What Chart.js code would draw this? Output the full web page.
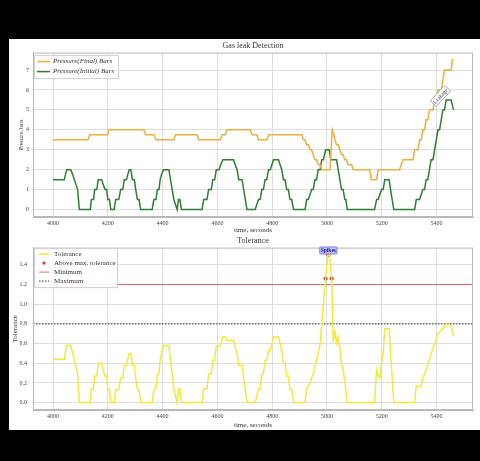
<!DOCTYPE html>
<html>
<head>
<meta charset="utf-8">
<script src="https://cdn.jsdelivr.net/npm/chart.js@4/dist/chart.umd.min.js"></script>
<style>
  html, body { margin: 0; padding: 0; background: #000; }
  body { width: 480px; height: 461px; position: relative; overflow: hidden; }
  #panel { position: absolute; left: 9px; top: 39px; width: 471px; height: 391px; background: #fff; }
  canvas { position: absolute; left: 0; }
  #pressure { top: 0; }
  #tolerance { top: 196px; }
</style>
</head>
<body>
<div id="panel">
  <canvas id="pressure" width="471" height="196"></canvas>
  <canvas id="tolerance" width="471" height="195"></canvas>
</div>
<script>
// [time in seconds, value]
const pressureFinal = [
  [4000, 3.5], [4128, 3.5], [4134, 3.75], [4199, 3.75], [4205, 4.0], [4332, 4.0], [4338, 3.75],
  [4368, 3.75], [4376, 3.5], [4441, 3.5], [4447, 3.75], [4526, 3.75], [4532, 3.5], [4611, 3.5],
  [4617, 3.75], [4629, 3.75], [4635, 4.0], [4720, 4.0], [4726, 3.75], [4744, 3.75], [4750, 3.5],
  [4781, 3.5], [4787, 3.75], [4908, 3.75], [4914, 3.5], [4920, 3.5], [4926, 3.25], [4932, 3.25],
  [4938, 3.0], [4944, 3.0], [4950, 2.75], [4956, 2.5], [4962, 2.5], [4968, 2.25], [4975, 2.25],
  [4981, 2.0], [5011, 2.0], [5019, 4.0], [5025, 3.75], [5029, 3.5], [5035, 3.25], [5041, 3.25],
  [5047, 3.0], [5053, 2.75], [5059, 2.75], [5065, 2.5], [5071, 2.5], [5077, 2.25], [5090, 2.25],
  [5096, 2.0], [5156, 2.0], [5162, 1.5], [5181, 1.5], [5187, 2.0], [5265, 2.0], [5271, 2.25],
  [5278, 2.5], [5314, 2.5], [5320, 3.0], [5332, 3.0], [5338, 3.5], [5344, 3.5], [5350, 4.0],
  [5356, 4.0], [5362, 4.5], [5368, 4.5], [5374, 5.0], [5387, 5.0], [5393, 5.5], [5399, 5.5],
  [5405, 6.0], [5417, 6.0], [5423, 6.5], [5429, 7.0], [5453, 7.0], [5458, 7.5], [5462, 7.5]
];

const pressureInitial = [
  [4000, 1.5], [4041, 1.5], [4050, 2.0], [4065, 2.0], [4072, 1.75], [4078, 1.5], [4084, 1.25],
  [4090, 1.0], [4096, 0], [4136, 0], [4140, 0.5], [4148, 0.5], [4152, 1.0], [4160, 1.0],
  [4165, 1.5], [4178, 1.5], [4183, 1.25], [4190, 1.0], [4196, 1.0], [4200, 0.5], [4206, 0.5],
  [4211, 0], [4223, 0], [4229, 0.5], [4240, 0.5], [4247, 1.0], [4255, 1.0], [4260, 1.5],
  [4268, 1.5], [4273, 1.75], [4278, 2.0], [4284, 2.0], [4290, 1.5], [4297, 1.5], [4302, 1.0],
  [4308, 0.5], [4314, 0.5], [4320, 0], [4362, 0], [4368, 0.5], [4376, 0.5], [4381, 1.0],
  [4387, 1.0], [4391, 1.5], [4396, 1.75], [4403, 2.0], [4423, 2.0], [4429, 1.5], [4435, 1.0],
  [4441, 0.5], [4447, 0.25], [4453, 0], [4458, 0.5], [4463, 0.5], [4469, 0], [4544, 0],
  [4550, 0.5], [4562, 0.5], [4568, 1.0], [4578, 1.0], [4583, 1.5], [4590, 1.5], [4596, 2.0],
  [4606, 2.0], [4612, 2.25], [4620, 2.5], [4659, 2.5], [4665, 2.25], [4672, 2.0], [4678, 1.5],
  [4690, 1.5], [4696, 1.0], [4702, 0.5], [4708, 0], [4738, 0], [4744, 0.25], [4750, 0.5],
  [4756, 0.5], [4762, 1.0], [4768, 1.0], [4774, 1.5], [4780, 1.5], [4787, 2.0], [4793, 2.0],
  [4799, 2.25], [4805, 2.5], [4823, 2.5], [4829, 2.25], [4835, 2.0], [4841, 1.5], [4847, 1.5],
  [4853, 1.0], [4859, 1.0], [4865, 0.5], [4871, 0.5], [4878, 0], [4920, 0], [4926, 0.5],
  [4932, 0.5], [4938, 0.75], [4944, 1.0], [4950, 1.0], [4956, 1.5], [4962, 1.5], [4968, 2.0],
  [4975, 2.0], [4981, 2.5], [4987, 2.5], [4995, 3.0], [5008, 3.0], [5014, 2.5], [5035, 2.5],
  [5041, 2.0], [5047, 1.5], [5053, 1.0], [5059, 1.0], [5065, 0.5], [5069, 0.5], [5074, 0],
  [5174, 0], [5181, 0.5], [5187, 0.5], [5193, 0.75], [5199, 1.0], [5205, 1.0], [5211, 1.5],
  [5227, 1.5], [5232, 1.0], [5238, 0.5], [5244, 0], [5320, 0], [5326, 0.5], [5338, 0.5],
  [5344, 0.75], [5350, 1.0], [5356, 1.0], [5362, 1.5], [5368, 1.5], [5374, 2.0], [5380, 2.5],
  [5387, 2.5], [5393, 3.0], [5399, 3.5], [5405, 4.0], [5411, 4.0], [5417, 4.5], [5423, 5.0],
  [5429, 5.0], [5435, 5.5], [5453, 5.5], [5462, 5.0]
];

const tolerance = [
  [4000, 0.44], [4041, 0.44], [4050, 0.58], [4065, 0.58], [4072, 0.5], [4078, 0.43], [4084, 0.36],
  [4090, 0.29], [4096, 0], [4136, 0], [4140, 0.14], [4148, 0.14], [4152, 0.27], [4160, 0.27],
  [4165, 0.4], [4178, 0.4], [4183, 0.33], [4190, 0.27], [4196, 0.27], [4200, 0.13], [4206, 0.13],
  [4211, 0], [4223, 0], [4229, 0.13], [4240, 0.13], [4247, 0.25], [4255, 0.25], [4260, 0.38],
  [4268, 0.38], [4273, 0.44], [4278, 0.5], [4284, 0.5], [4290, 0.38], [4297, 0.38], [4302, 0.25],
  [4308, 0.13], [4314, 0.13], [4320, 0], [4362, 0], [4368, 0.13], [4376, 0.14], [4381, 0.29],
  [4387, 0.29], [4391, 0.43], [4396, 0.5], [4403, 0.58], [4423, 0.58], [4429, 0.43], [4435, 0.29],
  [4441, 0.14], [4447, 0.07], [4453, 0], [4458, 0.14], [4463, 0.14], [4469, 0], [4544, 0],
  [4550, 0.14], [4562, 0.14], [4568, 0.29], [4578, 0.29], [4583, 0.43], [4590, 0.43], [4596, 0.57],
  [4606, 0.57], [4612, 0.6], [4620, 0.67], [4629, 0.67], [4635, 0.63], [4659, 0.63], [4665, 0.56],
  [4672, 0.5], [4678, 0.38], [4690, 0.38], [4696, 0.25], [4702, 0.13], [4708, 0], [4738, 0],
  [4744, 0.07], [4750, 0.14], [4756, 0.14], [4762, 0.29], [4768, 0.29], [4774, 0.43], [4780, 0.43],
  [4787, 0.53], [4793, 0.53], [4799, 0.6], [4805, 0.67], [4823, 0.67], [4829, 0.6], [4835, 0.53],
  [4841, 0.4], [4847, 0.4], [4853, 0.27], [4859, 0.27], [4865, 0.13], [4871, 0.13], [4878, 0],
  [4920, 0], [4926, 0.14], [4932, 0.17], [4938, 0.2], [4944, 0.25], [4950, 0.29], [4956, 0.36],
  [4962, 0.43], [4968, 0.5], [4975, 0.6], [4995, 1.26], [5003, 1.5], [5009, 1.5], [5017, 1.26],
  [5023, 0.62], [5029, 0.72], [5035, 0.6], [5041, 0.67], [5047, 0.55], [5053, 0.4], [5059, 0.33],
  [5065, 0.22], [5074, 0], [5174, 0], [5181, 0.33], [5187, 0.27], [5193, 0.25], [5199, 0.4],
  [5205, 0.5], [5211, 0.75], [5227, 0.75], [5232, 0.5], [5238, 0.25], [5244, 0], [5320, 0],
  [5326, 0.17], [5338, 0.16], [5344, 0.17], [5350, 0.25], [5356, 0.29], [5362, 0.33], [5368, 0.4],
  [5374, 0.43], [5380, 0.5], [5387, 0.55], [5393, 0.6], [5399, 0.65], [5405, 0.7], [5411, 0.72],
  [5417, 0.73], [5423, 0.75], [5429, 0.77], [5435, 0.8], [5447, 0.79], [5453, 0.78], [5462, 0.67]
];

const spikes = [[4995, 1.26], [5005, 1.5], [5017, 1.26]];

const minTolerance = 1.2;
const maxTolerance = 0.8;

// etiquetas de los ejes
const timeTicks = [4000, 4200, 4400, 4600, 4800, 5000, 5200, 5400];
const pressureTicks = [0, 1, 2, 3, 4, 5, 6, 7];
const toleranceTicks = [0, 0.2, 0.4, 0.6, 0.8, 1.0, 1.2, 1.4];

const X_MIN = 3927;
const X_MAX = 5533;

const SERIF = "'Liberation Serif', 'DejaVu Serif', serif";
const toXY = (pairs) => pairs.map(([x, y]) => ({ x, y }));

// marco del área + leyenda dentro de la gráfica
const boxLegend = {
	id: 'boxLegend',
	afterDatasetsDraw(chart, args, opts) {
		const { ctx, chartArea: a } = chart;
		ctx.save();
		ctx.strokeStyle = '#b8b8b8';
		ctx.lineWidth = 1;
		ctx.strokeRect(a.left + 0.5, a.top + 0.5, a.right - a.left - 1, a.bottom - a.top - 1);

		if (opts.display) {
			const items = chart.data.datasets.filter(d => d.label);
			const x = a.left + opts.dx;
			const y = a.top + opts.dy;
			const h = opts.pad * 2 + items.length * opts.row;
			ctx.fillStyle = 'rgba(255,255,255,0.92)';
			ctx.fillRect(x, y, opts.width, h);
			ctx.strokeStyle = '#cfcfcf';
			ctx.strokeRect(x + 0.5, y + 0.5, opts.width, h);
			ctx.font = opts.font;
			ctx.textBaseline = 'middle';
			items.forEach((d, i) => {
				const cy = y + opts.pad + opts.row * (i + 0.5);
				if (d.showLine === false) {
					ctx.beginPath();
					ctx.arc(x + (opts.lineFrom + opts.lineTo) / 2, cy, 1.6, 0, Math.PI * 2);
					ctx.fillStyle = d.pointBackgroundColor;
					ctx.fill();
				} else {
					ctx.beginPath();
					ctx.setLineDash(d.borderDash || []);
					ctx.strokeStyle = d.borderColor;
					ctx.lineWidth = d.borderWidth;
					ctx.moveTo(x + opts.lineFrom, cy);
					ctx.lineTo(x + opts.lineTo, cy);
					ctx.stroke();
					ctx.setLineDash([]);
				}
				ctx.fillStyle = '#333';
				ctx.fillText(d.label, x + opts.textX, cy);
			});
		}
		ctx.restore();
	}
};

// textos anotados sobre los datos
const notes = {
	id: 'notes',
	afterDatasetsDraw(chart, args, opts) {
		const { ctx } = chart;
		(opts.items || []).forEach(n => {
			const px = chart.scales.x.getPixelForValue(n.x);
			const py = chart.scales.y.getPixelForValue(n.y) + (n.dy || 0);
			ctx.save();
			ctx.translate(px, py);
			ctx.rotate(n.angle * Math.PI / 180);
			ctx.font = n.font;
			const w = ctx.measureText(n.text).width + n.pad * 2;
			const h = n.size + n.pad * 2;
			ctx.beginPath();
			ctx.roundRect(-w / 2, -h / 2, w, h, n.radius);
			ctx.fillStyle = n.bg;
			ctx.fill();
			ctx.strokeStyle = n.border;
			ctx.lineWidth = 0.8;
			ctx.stroke();
			ctx.fillStyle = n.color;
			ctx.textAlign = 'center';
			ctx.textBaseline = 'middle';
			ctx.fillText(n.text, 0, 0.5);
			ctx.restore();
		});
	}
};

function xScale(height) {
	return {
		type: 'linear',
		min: X_MIN,
		max: X_MAX,
		afterBuildTicks: s => { s.ticks = timeTicks.map(value => ({ value })); },
		ticks: {
			autoSkip: false, maxRotation: 0, padding: 3, color: '#444',
			font: { family: SERIF, size: 6 }, callback: v => String(v)
		},
		grid: { color: '#dedede', drawTicks: false },
		border: { color: '#b8b8b8' },
		title: {
			display: true, text: 'time, seconds', color: '#333',
			font: { family: SERIF, size: 7 }, padding: { top: 0, bottom: 1 }
		},
		afterFit: s => { s.height = height; }
	};
}

function yScale(opts) {
	return {
		min: opts.min,
		max: opts.max,
		afterBuildTicks: s => { s.ticks = opts.ticks.map(value => ({ value })); },
		ticks: {
			autoSkip: false, padding: opts.tickPad, color: '#444',
			font: { family: SERIF, size: 6 }, callback: opts.fmt
		},
		grid: { color: '#dedede', drawTicks: false },
		border: { color: '#b8b8b8' },
		title: {
			display: true, text: opts.title, color: '#333',
			font: { family: SERIF, size: opts.titleSize }, padding: 0
		},
		afterFit: s => { s.width = opts.width; }
	};
}

const pressureChart = new Chart(document.getElementById('pressure'), {
	type: 'line',
	data: {
		datasets: [
			{
				label: 'Pressure(Final) Bars', data: toXY(pressureFinal),
				borderColor: '#e9b040', borderWidth: 1.5, pointRadius: 0
			},
			{
				label: 'Pressure(Initial) Bars', data: toXY(pressureInitial),
				borderColor: '#2f7d34', borderWidth: 1.5, pointRadius: 0
			}
		]
	},
	options: {
		responsive: false,
		animation: false,
		layout: { padding: { left: 9, right: 7, top: 0, bottom: 0 } },
		scales: {
			x: xScale(18),
			y: yScale({
				min: -0.375, max: 7.875, ticks: pressureTicks, tickPad: 4, width: 15,
				title: 'Pressure, bars', titleSize: 5.5, fmt: v => String(v)
			})
		},
		plugins: {
			legend: { display: false },
			tooltip: { enabled: false },
			title: {
				display: true, text: 'Gas leak Detection', fullSize: false, color: '#333',
				font: { family: SERIF, size: 8, weight: 'normal' }, padding: { top: 2, bottom: 2 }
			},
			boxLegend: {
				display: true, dx: 1, dy: 2.5, width: 84, pad: 1.5, row: 10,
				lineFrom: 3, lineTo: 16, textX: 19, font: 'italic 7px ' + SERIF
			},
			notes: {
				items: [{
					x: 5414, y: 5.7, angle: -48, text: 'Leakage', font: '5.5px ' + SERIF, size: 5.5,
					pad: 1.3, radius: 1.5, bg: '#ffffff', border: '#9a9a9a', color: '#444'
				}]
			}
		}
	},
	plugins: [boxLegend, notes]
});

const toleranceChart = new Chart(document.getElementById('tolerance'), {
	type: 'line',
	data: {
		datasets: [
			{
				label: 'Tolerance', data: toXY(tolerance),
				borderColor: '#f3e93a', borderWidth: 1.5, pointRadius: 0
			},
			{
				label: 'Above max. tolerance', data: toXY(spikes), showLine: false,
				pointRadius: 1.8, pointBackgroundColor: '#cf3b2c', pointBorderColor: '#8c2418', pointBorderWidth: 0.5
			},
			{
				label: 'Minimum', data: toXY([[X_MIN, minTolerance], [X_MAX, minTolerance]]),
				borderColor: '#e06a6a', borderWidth: 1, pointRadius: 0
			},
			{
				label: 'Maximum', data: toXY([[X_MIN, maxTolerance], [X_MAX, maxTolerance]]),
				borderColor: '#555555', borderWidth: 1.2, borderDash: [1.5, 1.5], pointRadius: 0
			}
		]
	},
	options: {
		responsive: false,
		animation: false,
		layout: { padding: { left: 2, right: 7, top: 0, bottom: 0 } },
		scales: {
			x: xScale(20),
			y: yScale({
				min: -0.075, max: 1.575, ticks: toleranceTicks, tickPad: 6, width: 22,
				title: 'Tolerance', titleSize: 7, fmt: v => v.toFixed(1)
			})
		},
		plugins: {
			legend: { display: false },
			tooltip: { enabled: false },
			title: {
				display: true, text: 'Tolerance', fullSize: false, color: '#333',
				font: { family: SERIF, size: 8, weight: 'normal' }, padding: { top: 1, bottom: 2 }
			},
			boxLegend: {
				display: true, dx: 1, dy: 0.5, width: 83, pad: 1.5, row: 9,
				lineFrom: 5, lineTo: 15, textX: 20, font: '7px ' + SERIF
			},
			notes: {
				items: [{
					x: 5005, y: 1.5, dy: -4.5, angle: 0, text: 'Spikes', font: 'bold 5.5px ' + SERIF, size: 5,
					pad: 1, radius: 1, bg: '#c4c4f2', border: '#6a6ad8', color: '#1414b4'
				}]
			}
		}
	},
	plugins: [boxLegend, notes]
});
</script>
</body>
</html>
